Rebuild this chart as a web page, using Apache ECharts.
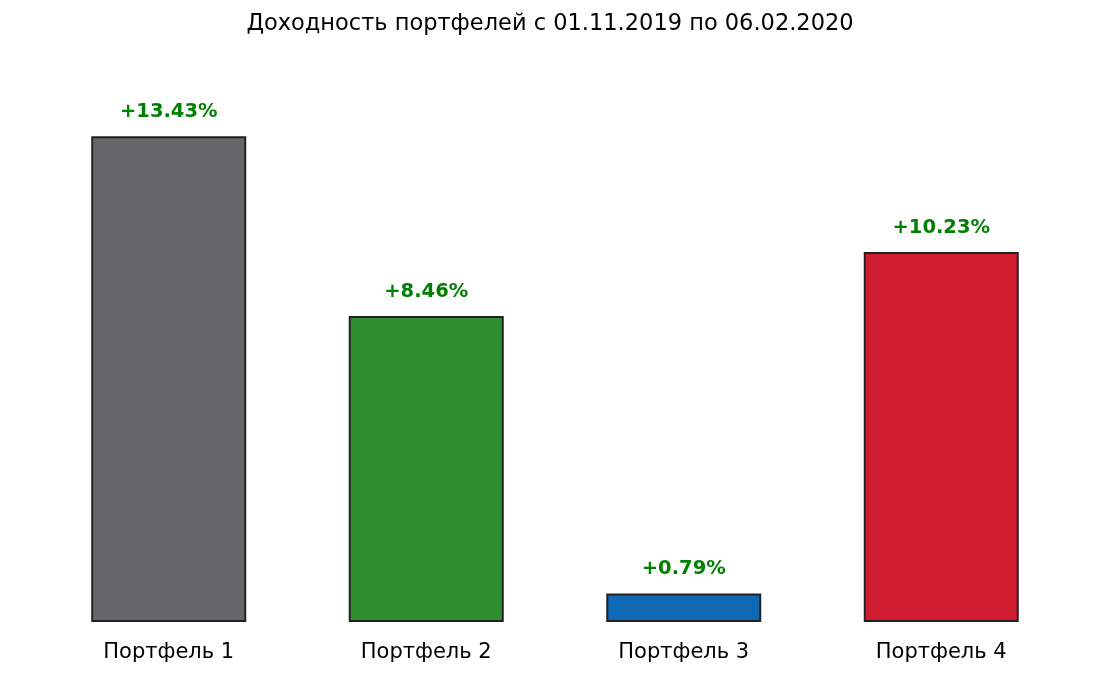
<!DOCTYPE html>
<html>
<head>
<meta charset="utf-8">
<script src="https://cdn.jsdelivr.net/npm/echarts@6/dist/echarts.min.js"></script>
<style>
  html, body { margin: 0; padding: 0; background: #fff; }
  #chart { width: 1100px; height: 677px; }
</style>
</head>
<body>
<div id="chart"></div>
<script>
const titleText = 'Доходность портфелей с 01.11.2019 по 06.02.2020'
const categories = ['Портфель 1', 'Портфель 2', 'Портфель 3', 'Портфель 4']
const returns = [13.43, 8.46, 0.79, 10.23]
const barColors = ['#666768', '#2d8f2d', '#0f69b4', '#d01c2f']

const chart = echarts.init(document.getElementById('chart'))
const font = '"DejaVu Sans", sans-serif'

chart.setOption({
  animation: false,
  title: {
    text: titleText,
    left: 'center',
    top: 8,
    textStyle: { fontFamily: font, fontSize: 22.5, fontWeight: 'normal', color: '#000' }
  },
  grid: { left: 40, width: 1030, top: 112, bottom: 55 },
  xAxis: {
    type: 'category',
    data: categories,
    axisLine: { show: false },
    axisTick: { show: false },
    axisLabel: { fontFamily: font, fontSize: 21, color: '#000', margin: 20 }
  },
  yAxis: {
    type: 'value',
    min: 0,
    max: 14.1,
    show: false,
    splitLine: { show: false }
  },
  series: [{
    type: 'bar',
    barWidth: 155,
    data: returns.map((v, i) => ({
      value: v,
      itemStyle: { color: barColors[i] }
    })),
    itemStyle: { borderColor: '#222', borderWidth: 2 },
    label: {
      show: true,
      position: 'top',
      distance: 14,
      fontFamily: font,
      fontSize: 19.5,
      fontWeight: 'bold',
      color: '#008000',
      formatter: p => '+' + p.value.toFixed(2) + '%'
    }
  }]
})
</script>
</body>
</html>
